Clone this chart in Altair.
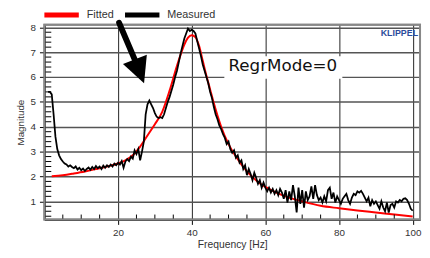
import altair as alt
import pandas as pd

# Fitted curve (frequency in Hz, magnitude)
fit_freq = [2, 5, 8, 11, 14, 17, 20, 22, 24, 26, 28, 30, 32, 34, 36, 37, 38, 39, 40,
            41, 42, 43, 44, 45, 46, 47, 48, 50, 52, 55, 58, 60, 63, 66, 70, 75, 80,
            85, 90, 95, 100]
fit_mag = [2.01, 2.05, 2.12, 2.20, 2.30, 2.40, 2.52, 2.65, 2.85, 3.20, 3.65, 4.10,
           4.60, 5.45, 6.45, 6.90, 7.30, 7.58, 7.68, 7.60, 7.25, 6.65, 6.05, 5.50,
           4.95, 4.45, 4.00, 3.30, 2.80, 2.20, 1.78, 1.58, 1.35, 1.17, 1.00, 0.82,
           0.72, 0.63, 0.55, 0.47, 0.39]

# Measured curve, sampled every 0.5 Hz from 1.0 Hz to 100.0 Hz
meas_start = 1.0
meas_step = 0.5
meas_mag = [
    5.40, 5.40, 5.30, 4.50, 3.60, 3.10, 2.85, 2.70, 2.60, 2.52,   # 1.0 - 5.5
    2.48, 2.40, 2.45, 2.38, 2.33, 2.40, 2.28, 2.35, 2.25, 2.32,   # 6.0 - 10.5
    2.22, 2.30, 2.36, 2.27, 2.38, 2.30, 2.42, 2.33, 2.40, 2.30,   # 11.0 - 15.5
    2.44, 2.35, 2.45, 2.38, 2.48, 2.40, 2.52, 2.45, 2.55, 2.48,   # 16.0 - 20.5
    2.62, 2.35, 2.60, 2.70, 2.62, 2.80, 2.72, 3.05, 2.90, 3.10,   # 21.0 - 25.5
    2.65, 3.00, 3.40, 4.50, 4.90, 5.05, 4.90, 4.75, 4.55, 4.40,   # 26.0 - 30.5
    4.35, 4.38, 4.35, 4.50, 4.75, 5.00, 5.20, 5.45, 5.70, 6.00,   # 31.0 - 35.5
    6.25, 6.60, 6.95, 7.25, 7.55, 7.75, 7.95, 7.85, 7.90, 7.85,   # 36.0 - 40.5
    7.75, 7.45, 7.15, 6.85, 6.50, 6.25, 6.00, 5.75, 5.40, 5.15,   # 41.0 - 45.5
    4.80, 4.50, 4.30, 4.05, 3.90, 3.70, 3.55, 3.30, 3.40, 3.10,   # 46.0 - 50.5
    2.95, 3.05, 2.75, 2.85, 2.55, 2.65, 2.30, 2.45, 2.05, 2.30,   # 51.0 - 55.5
    2.10, 1.85, 2.15, 1.95, 1.70, 1.85, 1.55, 1.75, 1.55, 1.40,   # 56.0 - 60.5
    1.55, 1.35, 1.50, 1.30, 1.45, 1.25, 1.50, 1.35, 1.10, 1.45,   # 61.0 - 65.5
    0.95, 1.40, 1.05, 1.65, 1.20, 0.55, 1.55, 0.90, 1.45, 0.75,   # 66.0 - 70.5
    1.40, 1.05, 1.20, 1.60, 1.10, 1.65, 1.25, 1.05, 1.15, 0.95,   # 71.0 - 75.5
    1.20, 1.00, 1.45, 1.55, 1.10, 1.35, 0.95, 1.20, 1.05, 0.90,   # 76.0 - 80.5
    1.10, 1.20, 1.30, 1.05, 0.90, 1.15, 1.30, 1.25, 1.40, 1.35,   # 81.0 - 85.5
    1.42, 1.30, 1.15, 1.00, 1.15, 0.80, 1.05, 0.90, 1.00, 0.85,   # 86.0 - 90.5
    0.70, 1.00, 0.75, 0.60, 0.95, 0.55, 0.85, 0.90, 0.75, 1.00,   # 91.0 - 95.5
    0.95, 1.05, 1.00, 1.10, 1.12, 1.05, 0.90, 0.70, 0.62,         # 96.0 - 100.0
]
meas_freq = [meas_start + meas_step * i for i in range(len(meas_mag))]

x_major = [20, 40, 60, 80, 100]
x_minor = [5, 10, 15, 25, 30, 35, 45, 50, 55, 65, 70, 75, 85, 90, 95]
y_major = [1, 2, 3, 4, 5, 6, 7, 8]
y_minor = [0.4, 0.6, 0.8, 1.2, 1.4, 1.6, 1.8, 2.2, 2.4, 2.6, 2.8, 3.2, 3.4, 3.6,
           3.8, 4.2, 4.4, 4.6, 4.8, 5.2, 5.4, 5.6, 5.8, 6.2, 6.4, 6.6, 6.8,
           7.2, 7.4, 7.6, 7.8]

legend_labels = ["Fitted", "Measured"]
legend_colors = ["#ff0000", "#000000"]

fit_df = pd.DataFrame({"f": fit_freq, "m": fit_mag})
meas_df = pd.DataFrame({"f": meas_freq, "m": meas_mag})
xminor_df = pd.DataFrame({"f": x_minor})
yminor_df = pd.DataFrame({"m": y_minor})
one = pd.DataFrame({"k": [0]})

W, H = 382, 198
FONT = "Liberation Sans"

xscale = alt.Scale(domain=[0, 102], nice=False, zero=False)
yscale = alt.Scale(domain=[0.27, 8.1], nice=False, zero=False)

x_axis = alt.Axis(values=x_major, grid=True, gridColor="#222222", gridWidth=1,
                  tickSize=5, tickColor="#000000", domainColor="#000000", domainWidth=1.5,
                  labelFont=FONT, labelFontSize=10, labelColor="#333333", labelPadding=3,
                  title="Frequency [Hz]", titleFont=FONT, titleFontSize=10.5,
                  titleFontWeight="normal", titleColor="#333333", titlePadding=3)
y_axis = alt.Axis(values=y_major, grid=True, gridColor="#555555", gridWidth=1.5,
                  tickSize=5, tickColor="#000000", domainColor="#000000", domainWidth=1.5,
                  labelFont=FONT, labelFontSize=10, labelColor="#333333", labelPadding=4,
                  title="Magnitude", titleFont=FONT, titleFontSize=10,
                  titleFontWeight="normal", titleColor="#333333", titlePadding=5)

X = alt.X("f:Q", scale=xscale, axis=x_axis)
Y = alt.Y("m:Q", scale=yscale, axis=y_axis)

fit_line = alt.Chart(fit_df).mark_line(color="#ff0000", strokeWidth=2, interpolate="monotone").encode(
    x=X, y=Y)
meas_line = alt.Chart(meas_df).mark_line(color="#000000", strokeWidth=1.8).encode(
    x=X, y=Y)
xminor_ticks = alt.Chart(xminor_df).mark_rule(color="#000000", strokeWidth=1).encode(
    x=X, y=alt.value(H), y2=alt.value(H - 5))
yminor_ticks = alt.Chart(yminor_df).mark_rule(color="#000000", strokeWidth=1).encode(
    y=Y, x=alt.value(0), x2=alt.value(7))

# plot frame
frame = alt.Chart(one).mark_rect(filled=False, stroke="#888888", strokeWidth=2).encode(
    x=alt.value(0), x2=alt.value(W), y=alt.value(0), y2=alt.value(H))

# legend
leg_fit_bar = alt.Chart(one).mark_rule(color=legend_colors[0], strokeWidth=5).encode(
    x=alt.value(0), x2=alt.value(35), y=alt.value(-10))
leg_fit_txt = alt.Chart(one).mark_text(text=legend_labels[0], align="left", baseline="middle",
                                       font=FONT, fontSize=11, color="#333333").encode(
    x=alt.value(43), y=alt.value(-10))
leg_meas_bar = alt.Chart(one).mark_rule(color=legend_colors[1], strokeWidth=5).encode(
    x=alt.value(82), x2=alt.value(117), y=alt.value(-10))
leg_meas_txt = alt.Chart(one).mark_text(text=legend_labels[1], align="left", baseline="middle",
                                        font=FONT, fontSize=11, color="#333333").encode(
    x=alt.value(125), y=alt.value(-10))

# annotation box
note_box = alt.Chart(one).mark_rect(color="#ffffff").encode(
    x=alt.value(183), x2=alt.value(303), y=alt.value(32), y2=alt.value(55))
note_txt = alt.Chart(one).mark_text(text="RegrMode=0", align="center", baseline="middle",
                                    font="DejaVu Sans", fontSize=17, color="#111111").encode(
    x=alt.value(242.5), y=alt.value(42))

klippel = alt.Chart(one).mark_text(text="KLIPPEL", align="right", baseline="middle",
                                   font=FONT, fontSize=9, fontWeight="bold",
                                   color="#2b4c9b").encode(
    x=alt.value(380), y=alt.value(8))

# arrow
arrow_shaft = alt.Chart(one).mark_rule(color="#000000", strokeWidth=6, strokeCap="round").encode(
    x=alt.value(76), y=alt.value(-2), x2=alt.value(93), y2=alt.value(38))
arrow_head = alt.Chart(one).mark_point(shape="M-1,-1L1,-1L0,1Z", filled=True, color="#000000",
                                       size=676, angle=339, opacity=1).encode(
    x=alt.value(96.7), y=alt.value(47.4))

chart = alt.layer(
    fit_line, xminor_ticks, yminor_ticks, frame, note_box, note_txt, meas_line,
    leg_fit_bar, leg_fit_txt, leg_meas_bar, leg_meas_txt, klippel,
    arrow_shaft, arrow_head,
).properties(
    width=W, height=H,
    autosize=alt.AutoSizeParams(type="none"),
    padding={"left": 37, "top": 15, "right": 2, "bottom": 29},
    background="#ffffff",
).configure_view(stroke="#888888", strokeWidth=2)

chart.save("out.html", embed_options={"renderer": "svg", "actions": False})
